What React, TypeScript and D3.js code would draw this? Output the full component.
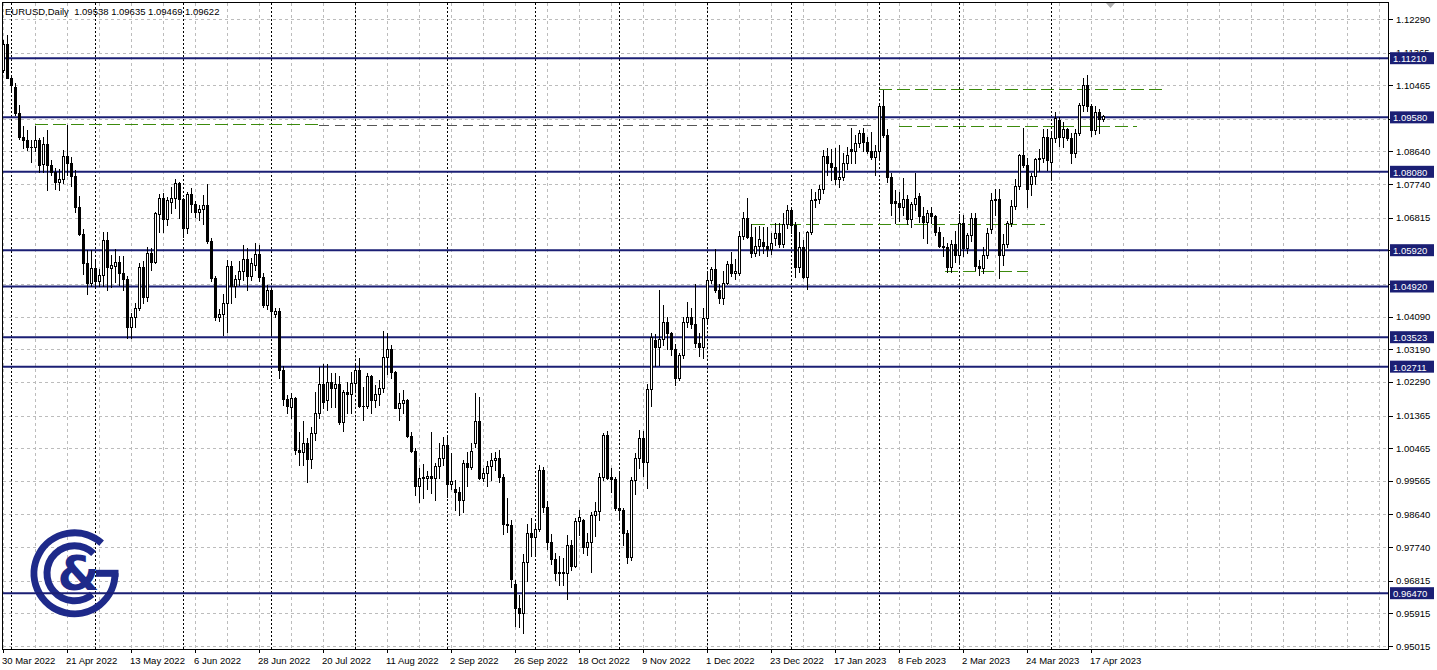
import React, { useEffect } from "react";
import * as d3 from "d3";

const timeLabels = [
  "30 Mar 2022", "21 Apr 2022", "13 May 2022", "6 Jun 2022", "28 Jun 2022", "20 Jul 2022",
  "11 Aug 2022", "2 Sep 2022", "26 Sep 2022", "18 Oct 2022", "9 Nov 2022", "1 Dec 2022",
  "23 Dec 2022", "17 Jan 2023", "8 Feb 2023", "2 Mar 2023", "24 Mar 2023", "17 Apr 2023",
];

const open = [
  1.1088, 1.1159, 1.1067, 1.1043, 1.0970, 1.0904, 1.0895, 1.0877, 1.0877, 1.0895,
  1.0829, 1.0884, 1.0826, 1.0808, 1.0781, 1.0789, 1.0851, 1.0832, 1.0796, 1.0712,
  1.0637, 1.0557, 1.0501, 1.0543, 1.0508, 1.0525, 1.0620, 1.0542, 1.0548, 1.0560,
  1.0530, 1.0512, 1.0380, 1.0409, 1.0433, 1.0546, 1.0463, 1.0584, 1.0560, 1.0692,
  1.0735, 1.0678, 1.0725, 1.0735, 1.0778, 1.0733, 1.0652, 1.0747, 1.0719, 1.0697,
  1.0706, 1.0717, 1.0616, 1.0515, 1.0408, 1.0417, 1.0447, 1.0548, 1.0494, 1.0512,
  1.0535, 1.0569, 1.0521, 1.0550, 1.0582, 1.0519, 1.0440, 1.0482, 1.0415, 1.0424,
  1.0262, 1.0182, 1.0160, 1.0185, 1.0041, 1.0036, 1.0060, 1.0018, 1.0088, 1.0144,
  1.0224, 1.0180, 1.0229, 1.0212, 1.0222, 1.0118, 1.0200, 1.0196, 1.0226, 1.0262,
  1.0164, 1.0162, 1.0245, 1.0180, 1.0196, 1.0212, 1.0298, 1.0320, 1.0257, 1.0158,
  1.0171, 1.0179, 1.0081, 1.0040, 0.9941, 0.9968, 0.9965, 0.9970, 0.9965, 0.9998,
  1.0020, 1.0055, 0.9947, 0.9933, 0.9927, 0.9904, 1.0006, 0.9996, 1.0060, 1.0121,
  0.9965, 0.9978, 0.9998, 1.0014, 1.0020, 0.9968, 0.9838, 0.9836, 0.9672, 0.9607,
  0.9592, 0.9734, 0.9812, 0.9801, 0.9824, 0.9986, 0.9885, 0.9789, 0.9740, 0.9702,
  0.9706, 0.9704, 0.9781, 0.9721, 0.9847, 0.9848, 0.9774, 0.9788, 0.9862, 0.9873,
  0.9966, 1.0083, 0.9966, 0.9962, 0.9881, 0.9876, 0.9812, 0.9748, 0.9959, 1.0020,
  1.0074, 1.0009, 1.0209, 1.0345, 1.0324, 1.0346, 1.0393, 1.0363, 1.0320, 1.0241,
  1.0303, 1.0395, 1.0409, 1.0388, 1.0337, 1.0325, 1.0405, 1.0510, 1.0539, 1.0482,
  1.0461, 1.0503, 1.0553, 1.0530, 1.0530, 1.0632, 1.0682, 1.0627, 1.0583, 1.0604,
  1.0615, 1.0603, 1.0594, 1.0625, 1.0640, 1.0609, 1.0664, 1.0703, 1.0661, 1.0547,
  1.0602, 1.0519, 1.0643, 1.0729, 1.0733, 1.0760, 1.0852, 1.0832, 1.0820, 1.0787,
  1.0795, 1.0831, 1.0872, 1.0866, 1.0887, 1.0916, 1.0891, 1.0866, 1.0850, 1.0864,
  1.0989, 1.0909, 1.0795, 1.0728, 1.0721, 1.0710, 1.0732, 1.0678, 1.0719, 1.0740,
  1.0685, 1.0671, 1.0695, 1.0686, 1.0643, 1.0604, 1.0600, 1.0545, 1.0609, 1.0580,
  1.0668, 1.0597, 1.0634, 1.0680, 1.0548, 1.0542, 1.0579, 1.0650, 1.0730, 1.0732,
  1.0578, 1.0610, 1.0668, 1.0715, 1.0770, 1.0855, 1.0828, 1.0774, 1.0797, 1.0843,
  1.0845, 1.0905, 1.0836, 1.0900, 1.0950, 1.0903, 1.0925, 1.0900, 1.0860, 1.0915,
  1.0992, 1.1047, 1.0990, 1.0924, 1.0972, 1.09538,
];

const high = [
  1.1172, 1.1185, 1.1076, 1.1054, 1.0992, 1.0935, 1.0922, 1.0896, 1.0935, 1.0901,
  1.0904, 1.0924, 1.0840, 1.0819, 1.0815, 1.0868, 1.0936, 1.0850, 1.0812, 1.0740,
  1.0650, 1.0592, 1.0593, 1.0566, 1.0540, 1.0642, 1.0641, 1.0579, 1.0594, 1.0575,
  1.0577, 1.0522, 1.0419, 1.0447, 1.0556, 1.0563, 1.0600, 1.0597, 1.0698, 1.0748,
  1.0749, 1.0738, 1.0765, 1.0787, 1.0781, 1.0737, 1.0752, 1.0764, 1.0728, 1.0717,
  1.0745, 1.0774, 1.0625, 1.0521, 1.0430, 1.0470, 1.0565, 1.0562, 1.0524, 1.0562,
  1.0606, 1.0597, 1.0570, 1.0613, 1.0606, 1.0528, 1.0496, 1.0486, 1.0432, 1.0434,
  1.0274, 1.0193, 1.0198, 1.0188, 1.0090, 1.0122, 1.0075, 1.0106, 1.0200, 1.0269,
  1.0278, 1.0278, 1.0255, 1.0253, 1.0245, 1.0207, 1.0230, 1.0257, 1.0280, 1.0294,
  1.0216, 1.0253, 1.0248, 1.0221, 1.0234, 1.0369, 1.0363, 1.0331, 1.0260, 1.0198,
  1.0207, 1.0182, 1.0092, 1.0046, 0.9991, 1.0002, 0.9985, 1.0090, 1.0005, 1.0060,
  1.0078, 1.0078, 1.0033, 0.9960, 0.9940, 1.0014, 1.0037, 1.0060, 1.0198, 1.0188,
  0.9991, 1.0011, 1.0032, 1.0037, 1.0042, 0.9976, 0.9908, 0.9850, 0.9683, 0.9641,
  0.9755, 0.9838, 0.9853, 0.9841, 1.0000, 0.9995, 0.9900, 0.9810, 0.9757, 0.9749,
  0.9743, 0.9807, 0.9794, 0.9853, 0.9876, 0.9852, 0.9812, 0.9872, 0.9899, 0.9977,
  1.0088, 1.0095, 0.9991, 0.9968, 0.9977, 0.9881, 0.9820, 0.9968, 1.0033, 1.0097,
  1.0094, 1.0222, 1.0363, 1.0362, 1.0482, 1.0440, 1.0409, 1.0367, 1.0333, 1.0308,
  1.0409, 1.0450, 1.0432, 1.0499, 1.0363, 1.0432, 1.0534, 1.0547, 1.0595, 1.0500,
  1.0535, 1.0562, 1.0588, 1.0568, 1.0645, 1.0696, 1.0737, 1.0663, 1.0657, 1.0659,
  1.0657, 1.0657, 1.0640, 1.0668, 1.0666, 1.0694, 1.0716, 1.0712, 1.0671, 1.0643,
  1.0620, 1.0646, 1.0760, 1.0751, 1.0771, 1.0868, 1.0873, 1.0870, 1.0873, 1.0882,
  1.0861, 1.0875, 1.0928, 1.0909, 1.0923, 1.0929, 1.0905, 1.0919, 1.0882, 1.0993,
  1.1033, 1.0925, 1.0805, 1.0758, 1.0753, 1.0790, 1.0745, 1.0726, 1.0804, 1.0749,
  1.0712, 1.0703, 1.0712, 1.0689, 1.0657, 1.0628, 1.0613, 1.0620, 1.0645, 1.0691,
  1.0690, 1.0640, 1.0694, 1.0695, 1.0566, 1.0600, 1.0652, 1.0749, 1.0760, 1.0760,
  1.0637, 1.0672, 1.0730, 1.0787, 1.0857, 1.0930, 1.0845, 1.0805, 1.0845, 1.0870,
  1.0925, 1.0925, 1.0918, 1.0973, 1.0960, 1.0945, 1.0930, 1.0915, 1.0925, 1.0998,
  1.1066, 1.1075, 1.0995, 1.0988, 1.0980, 1.09635,
];

const low = [
  1.1083, 1.1066, 1.1028, 1.0964, 1.0899, 1.0874, 1.0867, 1.0836, 1.0866, 1.0808,
  1.0808, 1.0757, 1.0800, 1.0760, 1.0757, 1.0778, 1.0800, 1.0768, 1.0697, 1.0634,
  1.0527, 1.0471, 1.0492, 1.0491, 1.0492, 1.0494, 1.0483, 1.0490, 1.0504, 1.0496,
  1.0482, 1.0350, 1.0350, 1.0381, 1.0427, 1.0447, 1.0451, 1.0537, 1.0556, 1.0642,
  1.0641, 1.0661, 1.0695, 1.0708, 1.0680, 1.0627, 1.0639, 1.0697, 1.0684, 1.0675,
  1.0665, 1.0611, 1.0507, 1.0400, 1.0397, 1.0358, 1.0367, 1.0446, 1.0464, 1.0496,
  1.0510, 1.0482, 1.0510, 1.0537, 1.0507, 1.0435, 1.0429, 1.0358, 1.0407, 1.0240,
  1.0165, 1.0144, 1.0130, 1.0031, 1.0000, 0.9999, 0.9952, 0.9992, 1.0070, 1.0130,
  1.0156, 1.0153, 1.0160, 1.0161, 1.0113, 1.0095, 1.0143, 1.0143, 1.0200, 1.0161,
  1.0124, 1.0156, 1.0143, 1.0161, 1.0166, 1.0200, 1.0250, 1.0240, 1.0156, 1.0124,
  1.0143, 1.0078, 1.0037, 0.9918, 0.9899, 0.9909, 0.9935, 0.9922, 0.9905, 0.9963,
  1.0000, 0.9911, 0.9935, 0.9876, 0.9863, 0.9870, 0.9941, 0.9990, 1.0050, 0.9962,
  0.9955, 0.9943, 0.9959, 0.9987, 0.9954, 0.9811, 0.9816, 0.9665, 0.9556, 0.9555,
  0.9536, 0.9680, 0.9750, 0.9752, 0.9817, 0.9872, 0.9770, 0.9728, 0.9682, 0.9669,
  0.9669, 0.9632, 0.9711, 0.9718, 0.9807, 0.9758, 0.9752, 0.9705, 0.9805, 0.9849,
  0.9959, 0.9961, 0.9927, 0.9876, 0.9849, 0.9780, 0.9729, 0.9738, 0.9920, 0.9991,
  0.9970, 0.9936, 1.0162, 1.0272, 1.0276, 1.0330, 1.0320, 1.0303, 1.0221, 1.0234,
  1.0294, 1.0381, 1.0377, 1.0326, 1.0300, 1.0294, 1.0395, 1.0501, 1.0478, 1.0446,
  1.0443, 1.0498, 1.0520, 1.0513, 1.0524, 1.0623, 1.0625, 1.0574, 1.0577, 1.0579,
  1.0584, 1.0576, 1.0582, 1.0607, 1.0602, 1.0602, 1.0652, 1.0639, 1.0519, 1.0533,
  1.0515, 1.0484, 1.0637, 1.0712, 1.0723, 1.0749, 1.0799, 1.0785, 1.0774, 1.0765,
  1.0785, 1.0815, 1.0833, 1.0831, 1.0875, 1.0866, 1.0859, 1.0843, 1.0799, 1.0843,
  1.0903, 1.0781, 1.0690, 1.0668, 1.0672, 1.0690, 1.0665, 1.0657, 1.0703, 1.0671,
  1.0625, 1.0611, 1.0666, 1.0634, 1.0600, 1.0577, 1.0533, 1.0533, 1.0560, 1.0560,
  1.0577, 1.0585, 1.0616, 1.0537, 1.0524, 1.0528, 1.0570, 1.0640, 1.0690, 1.0516,
  1.0551, 1.0600, 1.0658, 1.0705, 1.0760, 1.0820, 1.0712, 1.0745, 1.0775, 1.0810,
  1.0836, 1.0812, 1.0788, 1.0890, 1.0878, 1.0875, 1.0895, 1.0831, 1.0850, 1.0910,
  1.0975, 1.0975, 1.0908, 1.0911, 1.0915, 1.09469,
];

const close = [
  1.1159, 1.1067, 1.1046, 1.0970, 1.0904, 1.0895, 1.0877, 1.0875, 1.0895, 1.0827,
  1.0884, 1.0826, 1.0808, 1.0781, 1.0789, 1.0851, 1.0832, 1.0796, 1.0712, 1.0637,
  1.0557, 1.0501, 1.0543, 1.0508, 1.0525, 1.0620, 1.0546, 1.0550, 1.0560, 1.0530,
  1.0512, 1.0380, 1.0409, 1.0433, 1.0546, 1.0463, 1.0584, 1.0560, 1.0694, 1.0735,
  1.0678, 1.0730, 1.0735, 1.0778, 1.0733, 1.0652, 1.0747, 1.0719, 1.0697, 1.0706,
  1.0717, 1.0616, 1.0515, 1.0409, 1.0417, 1.0447, 1.0548, 1.0494, 1.0512, 1.0535,
  1.0569, 1.0521, 1.0557, 1.0582, 1.0519, 1.0440, 1.0482, 1.0425, 1.0424, 1.0262,
  1.0182, 1.0162, 1.0185, 1.0041, 1.0036, 1.0060, 1.0018, 1.0088, 1.0144, 1.0224,
  1.0175, 1.0229, 1.0212, 1.0222, 1.0118, 1.0200, 1.0196, 1.0226, 1.0262, 1.0164,
  1.0162, 1.0245, 1.0180, 1.0196, 1.0212, 1.0298, 1.0320, 1.0257, 1.0158, 1.0171,
  1.0179, 1.0081, 1.0040, 0.9941, 0.9965, 0.9965, 0.9970, 0.9965, 0.9998, 1.0020,
  1.0055, 0.9947, 0.9956, 0.9927, 0.9904, 1.0006, 0.9996, 1.0039, 1.0121, 0.9965,
  0.9978, 0.9998, 1.0014, 1.0020, 0.9968, 0.9838, 0.9836, 0.9686, 0.9607, 0.9592,
  0.9734, 0.9812, 0.9801, 0.9824, 0.9986, 0.9885, 0.9789, 0.9740, 0.9702, 0.9706,
  0.9704, 0.9781, 0.9721, 0.9847, 0.9858, 0.9774, 0.9788, 0.9862, 0.9873, 0.9966,
  1.0083, 0.9964, 0.9962, 0.9881, 0.9876, 0.9812, 0.9748, 0.9959, 1.0020, 1.0074,
  1.0009, 1.0209, 1.0354, 1.0324, 1.0346, 1.0393, 1.0363, 1.0320, 1.0241, 1.0303,
  1.0395, 1.0409, 1.0388, 1.0337, 1.0325, 1.0405, 1.0510, 1.0539, 1.0482, 1.0461,
  1.0503, 1.0553, 1.0530, 1.0536, 1.0632, 1.0682, 1.0627, 1.0583, 1.0604, 1.0622,
  1.0603, 1.0594, 1.0613, 1.0640, 1.0609, 1.0664, 1.0703, 1.0661, 1.0547, 1.0602,
  1.0519, 1.0643, 1.0729, 1.0733, 1.0760, 1.0852, 1.0832, 1.0820, 1.0787, 1.0795,
  1.0831, 1.0854, 1.0866, 1.0887, 1.0916, 1.0891, 1.0866, 1.0850, 1.0864, 1.0989,
  1.0909, 1.0795, 1.0723, 1.0721, 1.0710, 1.0732, 1.0678, 1.0719, 1.0735, 1.0685,
  1.0671, 1.0695, 1.0686, 1.0643, 1.0604, 1.0600, 1.0545, 1.0609, 1.0580, 1.0668,
  1.0597, 1.0634, 1.0680, 1.0548, 1.0542, 1.0579, 1.0639, 1.0730, 1.0732, 1.0578,
  1.0610, 1.0668, 1.0715, 1.0770, 1.0855, 1.0828, 1.0760, 1.0797, 1.0843, 1.0845,
  1.0905, 1.0841, 1.0900, 1.0955, 1.0903, 1.0925, 1.0900, 1.0860, 1.0915, 1.0992,
  1.1047, 1.0990, 1.0924, 1.0972, 1.0954, 1.09622,
];

// horizontal grid prices (all) and the labels actually visible on the price axis
const gridPrices = [
  1.1229, 1.11365, 1.10465, 1.0954, 1.0864, 1.0774, 1.06815, 1.05915, 1.0499, 1.0409,
  1.0319, 1.0229, 1.01365, 1.00465, 0.99565, 0.9864, 0.9774, 0.96815, 0.95915, 0.95015,
];
const priceLabels = [
  1.1229, 1.11365, 1.10465, 1.0864, 1.0774, 1.06815, 1.0409,
  1.0319, 1.0229, 1.01365, 1.00465, 0.99565, 0.9864, 0.9774, 0.96815, 0.95915, 0.95015,
];

const levelPrices = [1.1121, 1.0958, 1.0808, 1.0592, 1.0492, 1.03523, 1.02711, 0.9647];

const monthStartBars = [2, 23, 45, 67, 88, 111, 133, 154, 176, 197, 219, 239, 262];

const dashPrices = [1.094, 1.0938, 1.0934, 1.1036, 1.0664, 1.0535];
const dashFromBar = [8, 79, 224, 219, 187.25, 235.5];
const dashToBar = [79, 217, 283.5, 290.5, 260.5, 256.25];
const dashIsGreen = [true, false, true, true, true, true];

const headerText = "EURUSD,Daily  1.09538 1.09635 1.09469 1.09622";

const NAVY = "#1b1f74";
const GREEN = "#3c8a0c";
const GRID = "#bcbcbc";
const LOGO = "#1e2a8a";
const FONT = "'Liberation Sans', Arial, sans-serif";

const W = 1437;
const H = 670;
const PLOT_R = 1388;
const PLOT_B = 649;

function arcPath(cx: number, cy: number, r: number, a0: number, a1: number) {
  const rad = (a: number) => (a * Math.PI) / 180;
  const x0 = cx + r * Math.cos(rad(a0));
  const y0 = cy + r * Math.sin(rad(a0));
  const x1 = cx + r * Math.cos(rad(a1));
  const y1 = cy + r * Math.sin(rad(a1));
  return `M${x0},${y0} A${r},${r} 0 1 0 ${x1},${y1}`;
}

export default function App() {
  useEffect(() => {
    document.body.style.margin = "0";
  }, []);

  const n = open.length;
  const x = d3.scaleLinear().domain([0, 1]).range([3, 7]);
  const y = d3.scaleLinear().domain([0.95015, 1.1229]).range([646, 19]);

  const gridXs = d3.range(0, 44).map((k) => x(k * 8) + 0.5);

  const candles = d3.range(n).map((i) => {
    const c = Math.round(x(i));
    const o = open[i];
    const cl = close[i];
    const top = Math.round(y(Math.max(o, cl)));
    const bot = Math.round(y(Math.min(o, cl)));
    const hy = Math.round(y(high[i]));
    const ly = Math.round(y(low[i]));
    const bull = cl >= o;
    return (
      <g key={i}>
        <line x1={c + 0.5} x2={c + 0.5} y1={hy} y2={ly + 1} stroke="#000" strokeWidth={1} />
        {bot - top < 2 ? (
          <rect x={c - 1} y={top} width={3} height={Math.max(1, bot - top + 1)} fill="#000" />
        ) : bull ? (
          <rect x={c - 0.5} y={top + 0.5} width={2} height={bot - top} fill="#fff" stroke="#000" strokeWidth={1} />
        ) : (
          <rect x={c - 1} y={top} width={3} height={bot - top + 1} fill="#000" />
        )}
      </g>
    );
  });

  return (
    <svg
      width={W}
      height={H}
      style={{ position: "absolute", left: 0, top: 0, background: "#fff", display: "block" }}
      fontFamily={FONT}
    >
      <defs>
        <clipPath id="plot">
          <rect x={3} y={3} width={PLOT_R - 3} height={PLOT_B - 3} />
        </clipPath>
      </defs>
      <rect x={0} y={0} width={W} height={H} fill="#fff" />
      <g clipPath="url(#plot)">
        {gridPrices.map((p, i) => (
          <line key={"hg" + i} x1={3} x2={PLOT_R} y1={Math.round(y(p)) + 0.5} y2={Math.round(y(p)) + 0.5}
            stroke={GRID} strokeWidth={1} strokeDasharray="3,3" />
        ))}
        {gridXs.map((gx, i) => (
          <line key={"vg" + i} x1={gx} x2={gx} y1={3} y2={PLOT_B} stroke={GRID} strokeWidth={1} strokeDasharray="3,3" />
        ))}
        {monthStartBars.map((b, i) => (
          <line key={"ms" + i} x1={x(b) + 0.5} x2={x(b) + 0.5} y1={3} y2={PLOT_B} stroke="#000" strokeWidth={1} strokeDasharray="2,2" />
        ))}
        {/* logo */}
        <g fill="none" stroke={LOGO} strokeWidth={7}>
          <path d={arcPath(74.5, 573.3, 40.5, -48, 0)} />
          <path d={arcPath(74.5, 573.3, 27.5, -46, 50)} />
        </g>
        <rect x={96} y={569.8} width={22.5} height={7} fill={LOGO} />
        <text x={78.5} y={573} fontSize={48} fontWeight="bold" fill={LOGO} textAnchor="middle"
          dominantBaseline="central" fontFamily="'DejaVu Sans', sans-serif">&amp;</text>

        {levelPrices.map((p, i) => (
          <line key={"lv" + i} x1={3} x2={PLOT_R} y1={y(p)} y2={y(p)} stroke={NAVY} strokeWidth={2} />
        ))}
        {dashPrices.map((p, i) => (
          <line key={"ds" + i} x1={x(dashFromBar[i])} x2={x(dashToBar[i])} y1={Math.round(y(p)) + 0.5}
            y2={Math.round(y(p)) + 0.5} stroke={dashIsGreen[i] ? GREEN : "#555"} strokeWidth={1}
            strokeDasharray={dashIsGreen[i] ? "13,5" : "10,6"} />
        ))}
        {candles}
        <path d="M1106,3 L1115,3 L1110.5,8 Z" fill="#b0b0b0" />
      </g>

      {/* frame */}
      <rect x={2.5} y={2.5} width={PLOT_R - 2} height={PLOT_B - 2} fill="none" stroke="#000" strokeWidth={1} />

      {/* header */}
      <text x={5} y={15} fontSize={9.5} fill="#000" style={{ whiteSpace: "pre" }}>{headerText}</text>

      {/* right axis */}
      {gridPrices.map((p, i) => (
        <line key={"pk" + i} x1={PLOT_R + 1} x2={PLOT_R + 5} y1={Math.round(y(p)) + 0.5} y2={Math.round(y(p)) + 0.5} stroke="#000" />
      ))}
      {priceLabels.map((p, i) => (
        <text key={"pt" + i} x={1396} y={y(p)} fontSize={9.5} dominantBaseline="central" fill="#000">{p.toFixed(5)}</text>
      ))}
      {levelPrices.map((p, i) => (
        <g key={"lb" + i}>
          <rect x={1390} y={y(p) - 6} width={44} height={12} fill={NAVY} />
          <text x={1393} y={y(p) + 0.5} fontSize={9.5} dominantBaseline="central" fill="#fff">{p.toFixed(5)}</text>
        </g>
      ))}

      {/* bottom axis */}
      {timeLabels.map((t, k) => (
        <g key={"tl" + k}>
          <line x1={x(k * 16) + 0.5} x2={x(k * 16) + 0.5} y1={PLOT_B} y2={PLOT_B + 4} stroke="#000" />
          <text x={x(k * 16) - 1} y={664} fontSize={9.5} fill="#000">{t}</text>
        </g>
      ))}
    </svg>
  );
}
